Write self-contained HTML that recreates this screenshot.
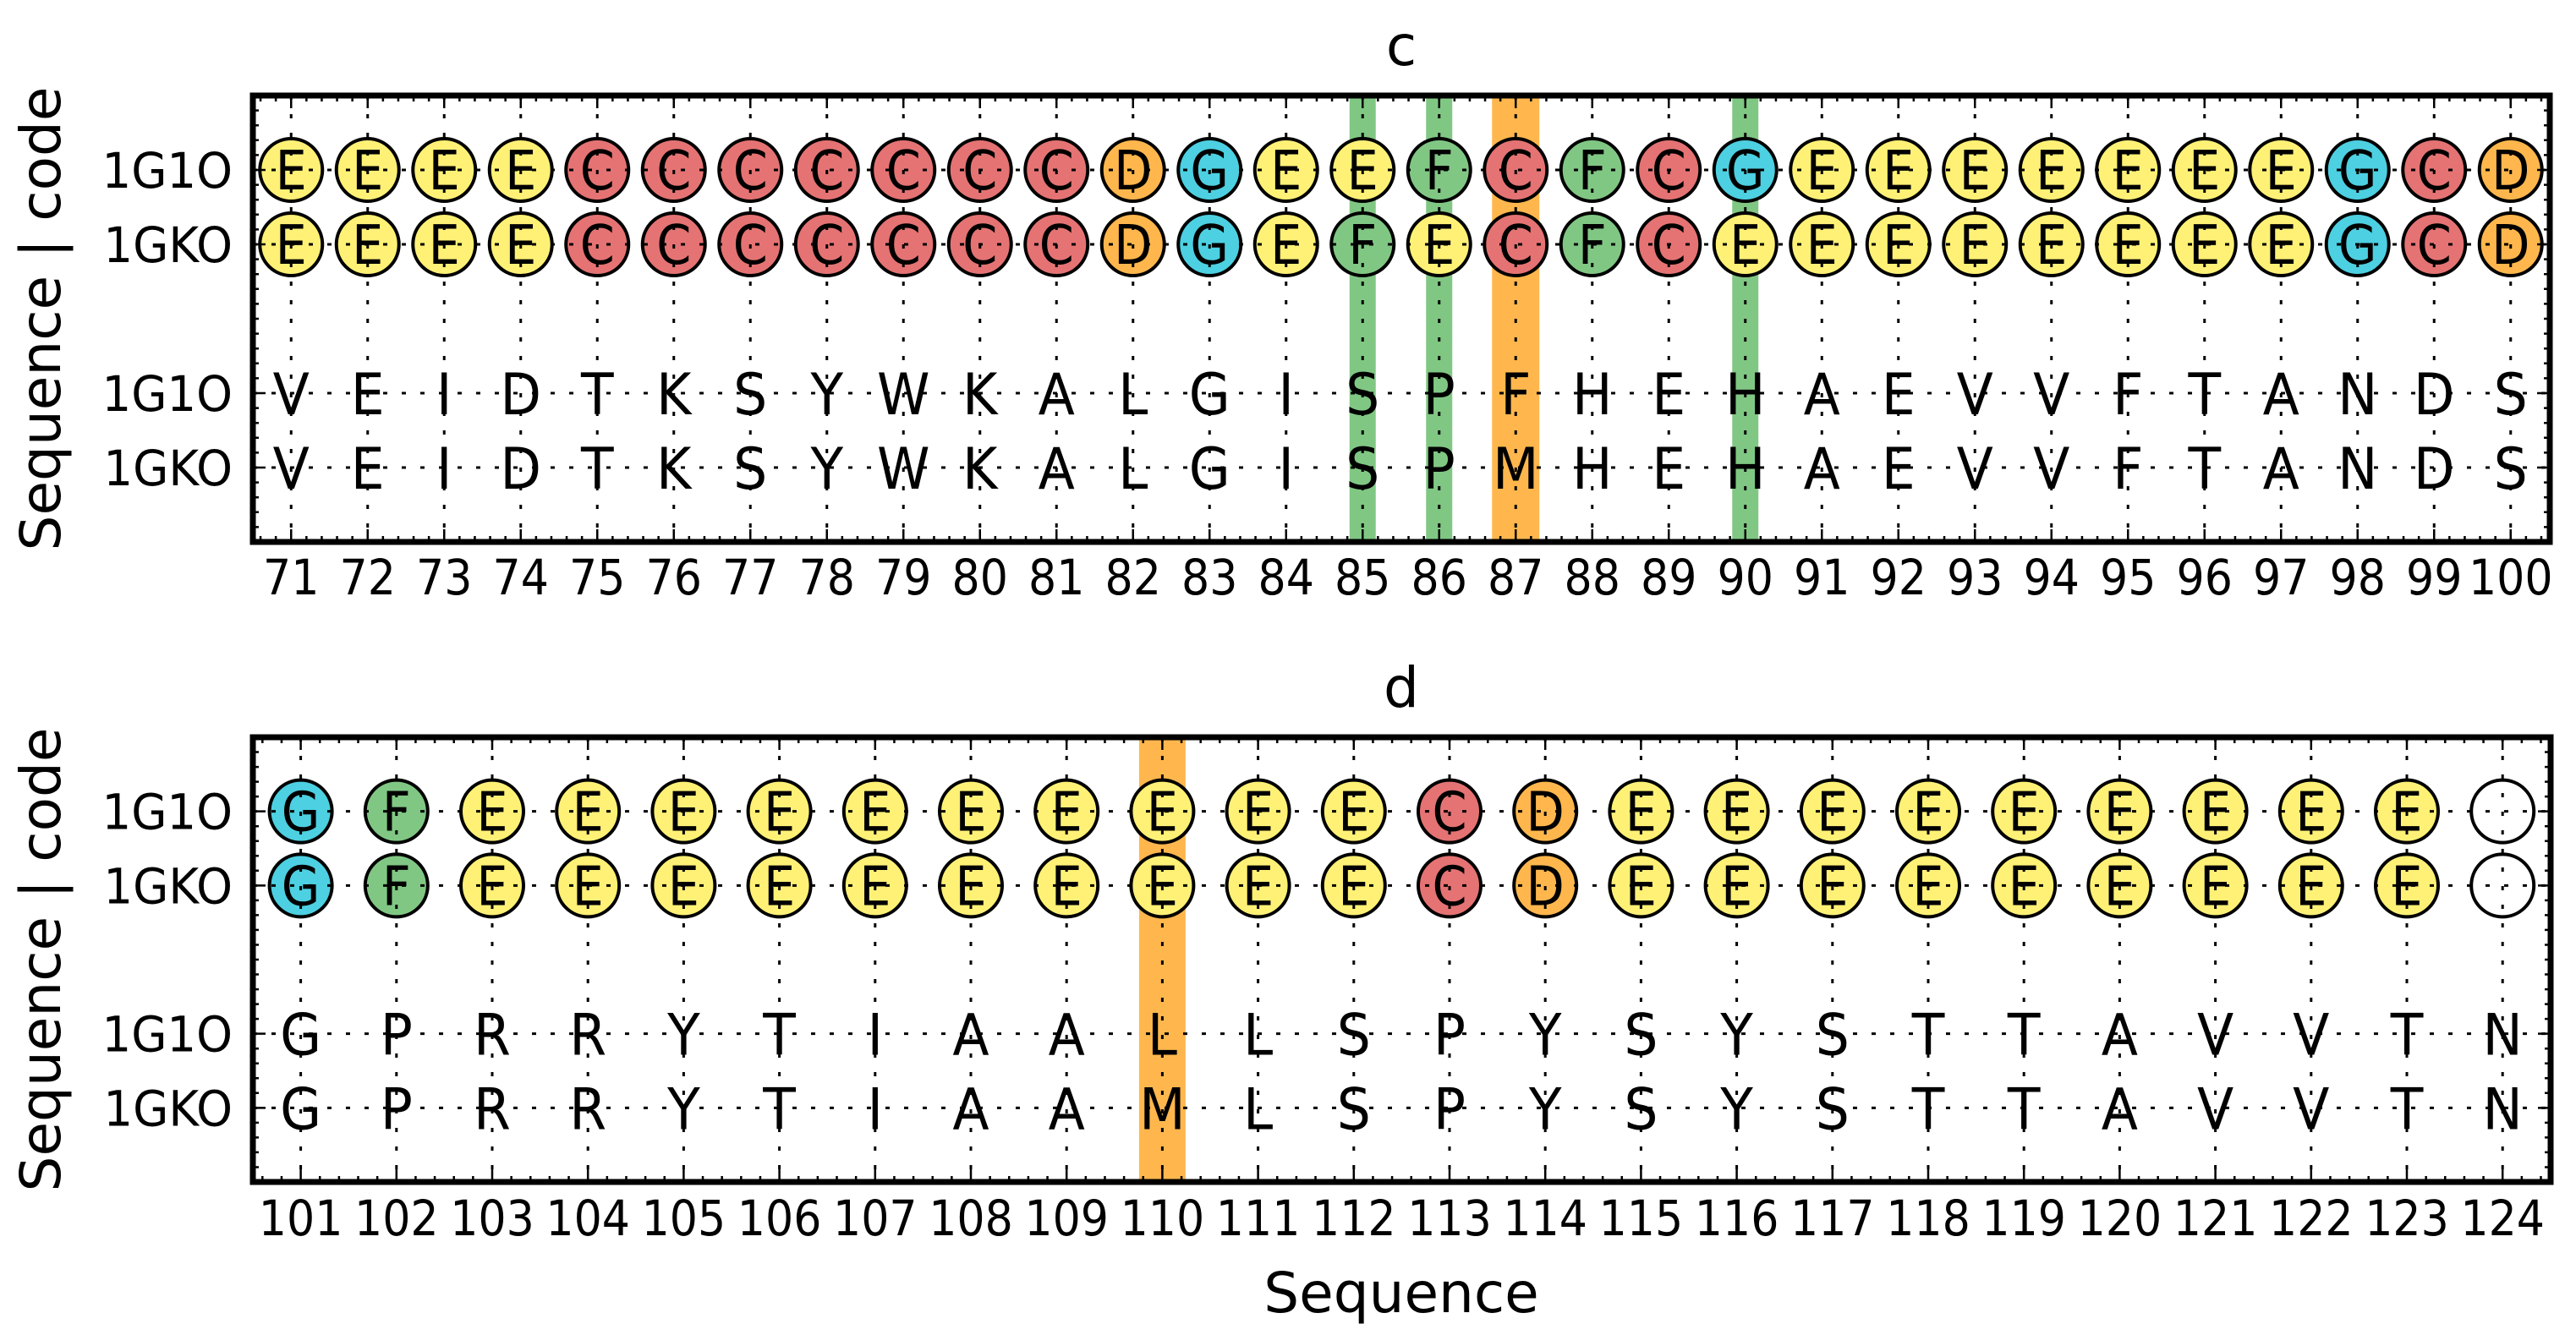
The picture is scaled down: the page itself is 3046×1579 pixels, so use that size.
<!DOCTYPE html>
<html><head><meta charset="utf-8"><style>html,body{margin:0;padding:0;background:#fff}svg{display:block}</style></head>
<body>
<svg id="s" xmlns="http://www.w3.org/2000/svg" width="3046" height="1579" viewBox="0 0 3046 1579" font-family="'DejaVu Sans','Liberation Sans',sans-serif">
<rect width="3046" height="1579" fill="#fff"/>
<text x="1657" y="77" font-size="66" text-anchor="middle">c</text>
<text x="1657" y="836" font-size="66" text-anchor="middle">d</text>
<text x="1657" y="1552" font-size="66" text-anchor="middle">Sequence</text>
<text transform="translate(71,377) rotate(-90)" font-size="66" text-anchor="middle">Sequence | code</text>
<text transform="translate(71,1135) rotate(-90)" font-size="66" text-anchor="middle">Sequence | code</text>
<g id="g"></g>
</svg>
<script>
var NS="http://www.w3.org/2000/svg",G=document.getElementById("g");
function el(t,a,txt){var e=document.createElementNS(NS,t);for(var k in a)e.setAttribute(k,a[k]);if(txt!==undefined)e.textContent=txt;G.appendChild(e);return e;}
function tx(x,y,size,anchor,s,sc){return el("text",{transform:"translate("+x+","+y+") scale("+sc+",1)","font-size":size,"text-anchor":anchor},s);}
var COL={E:"#fff176",C:"#e57373",D:"#ffb74d",G:"#4dd0e1",F:"#81c784"," ":"#ffffff"};
function panel(o){
 var x0=o.x0,x1=o.x1,y0=o.y0,y1=o.y1,u=(y1-y0)/6,n=o.c1.length;
 function X(v){return x0+(v-(o.c0-0.5))*o.dx;}
 var rows=[y0+u,y0+2*u,y0+4*u,y0+5*u];
 o.hl.forEach(function(h){var cx=X(h[0]);el("rect",{x:cx-h[2]/2,y:y0,width:h[2],height:y1-y0,fill:h[1]});});
 for(var i=0;i<n;i++){
  var cx=X(o.c0+i);
  [o.c1[i],o.c2[i]].forEach(function(c,r){
   el("circle",{cx:cx,cy:rows[r],r:37,fill:COL[c],stroke:"#000","stroke-width":4});
   if(c!==" ")tx(cx,rows[r]+23,64,"middle",c,0.92);
  });
  [o.s1[i],o.s2[i]].forEach(function(c,r){tx(cx,rows[r+2]+25,68,"middle",c,0.93);});
  tx(cx,o.ly,58,"middle",String(o.c0+i),0.9);
 }
 for(var i=0;i<n;i++){var cx=X(o.c0+i);el("line",{x1:cx,y1:y0,x2:cx,y2:y1,stroke:"#000","stroke-width":3,"stroke-dasharray":"5 17"});}
 rows.forEach(function(y){el("line",{x1:x0,y1:y,x2:x1,y2:y,stroke:"#000","stroke-width":3,"stroke-dasharray":"5 17"});});
 var d="";
 var vs=Math.ceil((o.c0-0.5)*5-1e-6),ve=Math.floor((o.c0-0.5+n)*5+1e-6);
 for(var k=vs;k<=ve;k++){var v=k/5,x=X(v),L=(k%5===0)?15:7;d+="M"+x+" "+y0+"v"+L+"M"+x+" "+y1+"v"+(-L);}
 for(var k=0;k<=30;k++){var y=y0+k/5*u,L=([5,10,20,25].indexOf(k)>=0)?15:7;d+="M"+x0+" "+y+"h"+L+"M"+x1+" "+y+"h"+(-L);}
 el("path",{d:d,stroke:"#000","stroke-width":2.5,fill:"none"});
 el("rect",{x:x0,y:y0,width:x1-x0,height:y1-y0,fill:"none",stroke:"#000","stroke-width":7});
 ["1G1O","1GKO","1G1O","1GKO"].forEach(function(t,r){tx(275,rows[r]+21,58,"end",t,0.94);});
}
panel({x0:299,x1:3015,y0:113,y1:641,c0:71,dx:90.5,ly:703,
 c1:"EEEECCCCCCCDGEEFCFCGEEEEEEEGCD",c2:"EEEECCCCCCCDGEFECFCEEEEEEEEGCD",
 s1:"VEIDTKSYWKALGISPFHEHAEVVFTANDS",s2:"VEIDTKSYWKALGISPMHEHAEVVFTANDS",
 hl:[[85,"#81c784",31],[86,"#81c784",31],[90,"#81c784",31],[87,"#ffb74d",56]]});
panel({x0:299,x1:3016,y0:872,y1:1398,c0:101,dx:113.2,ly:1461,
 c1:"GFEEEEEEEEEECDEEEEEEEEE ",c2:"GFEEEEEEEEEECDEEEEEEEEE ",
 s1:"GPRRYTIAALLSPYSYSTTAVVTN",s2:"GPRRYTIAAMLSPYSYSTTAVVTN",
 hl:[[110,"#ffb74d",55]]});
</script>
</body></html>
